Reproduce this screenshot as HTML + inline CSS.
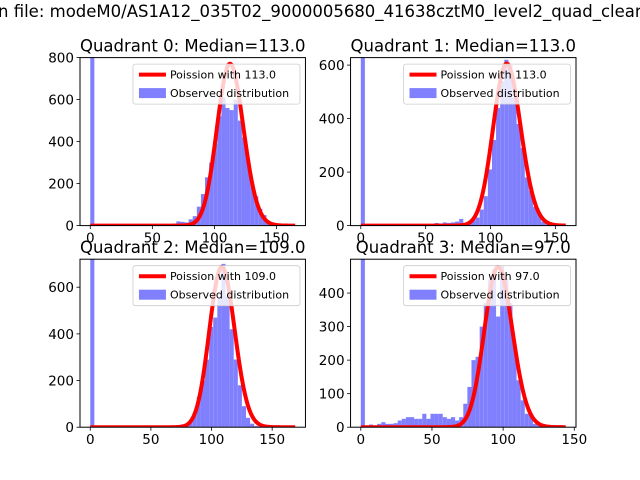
<!DOCTYPE html>
<html><head><meta charset="utf-8"><style>
html,body{margin:0;padding:0;background:#fff;overflow:hidden}
svg{display:block;font-family:"DejaVu Sans","Liberation Sans",sans-serif}
</style></head><body>
<svg id="fig" width="640" height="480" viewBox="0 0 640 480" xmlns="http://www.w3.org/2000/svg">
<rect width="640" height="480" fill="#fff"/>
<text x="-2" y="17" font-size="16.5" fill="#000">n file: modeM0/AS1A12_035T02_9000005680_41638cztM0_level2_quad_clean</text>
</svg>
<script>
// ---- data ----
const titles = ["Quadrant 0: Median=113.0","Quadrant 1: Median=113.0","Quadrant 2: Median=109.0","Quadrant 3: Median=97.0"];
const medians = [113, 113, 109, 97];
const histMax = [165, 158, 169, 144];
const yMax = [800, 628, 720, 501];
const yTicks0 = [0,200,400,600,800];
const yTicks1 = [0,200,400,600];
const yTicks2 = [0,200,400,600];
const yTicks3 = [0,100,200,300,400];
const xTicks = [0,50,100,150];
const curvePeak = [770, 605, 686, 477];
const counts0 = [3000,0,0,0,0,0,0,0,0,0,0,0,0,0,0,0,0,0,0,5,10,20,18,15,30,45,90,150,230,300,390,520,610,560,550,600,500,420,310,200,140,80,50,20,10,5,0,0,0,0];
const counts1 = [3000,0,0,0,0,0,0,0,0,0,0,0,0,0,0,0,5,5,10,8,12,10,12,15,25,10,15,20,30,60,110,210,320,440,540,620,600,480,380,290,180,130,70,50,15,5,0,0,0,0];
const counts2 = [3000,0,0,0,0,0,0,0,0,0,0,0,0,0,0,0,0,3,0,0,3,8,12,15,30,60,130,200,290,430,470,550,700,560,420,290,180,90,40,15,5,0,0,0,0,0,0,0,0,0];
const counts3 = [3000,0,8,5,10,15,10,10,12,20,25,30,30,25,25,40,25,40,40,40,30,25,30,20,30,70,120,200,210,300,370,440,470,330,480,440,370,250,140,80,40,40,10,5,0,0,0,0,0,0];
const allCounts = [counts0, counts1, counts2, counts3];
const allYTicks = [yTicks0, yTicks1, yTicks2, yTicks3];

// ---- layout ----
const NS = "http://www.w3.org/2000/svg";
const svg = document.getElementById("fig");
const axW = 225.45, axH = 168;
const axLeft = [80, 350.55, 80, 350.55];
const axTop = [57.6, 57.6, 259.2, 259.2];

function mk(tag, attrs, parent){
  const e = document.createElementNS(NS, tag);
  for (const k in attrs) e.setAttribute(k, attrs[k]);
  (parent||svg).appendChild(e);
  return e;
}
function lgamma(z){
  let s = 0;
  while (z < 7){ s -= Math.log(z); z += 1; }
  const z2 = 1/(z*z);
  return s + (z-0.5)*Math.log(z) - z + 0.5*Math.log(2*Math.PI) + (1/12 - z2*(1/360 - z2/1260))/z;
}

for (let q = 0; q < 4; q++){
  const L = axLeft[q], T = axTop[q];
  const xmax = histMax[q];
  const x0 = -0.05*xmax, x1 = 1.05*xmax;
  const X = v => L + (v - x0)/(x1 - x0)*axW;
  const Y = v => T + axH - v/yMax[q]*axH;
  const g = mk("g", {});
  
  
  const clipId = "clip" + q;
  const cp = mk("clipPath", {id: clipId}, g);
  mk("rect", {x: L, y: T, width: axW, height: axH}, cp);
  const plot = mk("g", {"clip-path": "url(#" + clipId + ")"}, g);
  const counts = allCounts[q];
  const bw = xmax / counts.length;
  for (let i = 0; i < counts.length; i++){
    if (counts[i] <= 0) continue;
    const r = mk("rect", {x: X(i*bw), y: Y(counts[i]), width: X((i+1)*bw) - X(i*bw), height: Y(0) - Y(counts[i]), fill: "#8080ff"}, plot);
    
    
  }
  const lam = medians[q];
  const lpk = lam*Math.log(lam) - lam - lgamma(lam+1);
  let d = "";
  for (let k = 0; k <= 400; k++){
    const xv = xmax * k / 400;
    const lp = (xv === 0 ? -lam : xv*Math.log(lam) - lam - lgamma(xv+1));
    const yv = curvePeak[q] * Math.exp(lp - lpk);
    d += (k ? "L" : "M") + X(xv).toFixed(2) + "," + Y(yv).toFixed(2);
  }
  const curve = mk("path", {d: d, fill: "none", stroke: "#ff0000", "stroke-width": 4, "stroke-linejoin": "round"}, plot);
  
  
  const fr = mk("rect", {x: L, y: T, width: axW, height: axH, fill: "none", stroke: "#000", "stroke-width": 1}, g);
  
  
  for (const t of xTicks){
    const px = X(t);
    mk("line", {x1: px, x2: px, y1: T+axH, y2: T+axH+3.5, stroke: "#000", "stroke-width": 0.8}, g);
    const tl = mk("text", {x: px, y: T+axH+17, "font-size": 13.5, "text-anchor": "middle", fill: "#000"}, g);
    tl.textContent = String(t);
    
    
  }
  for (const t of allYTicks[q]){
    const py = Y(t);
    mk("line", {x1: L-3.5, x2: L, y1: py, y2: py, stroke: "#000", "stroke-width": 0.8}, g);
    const tl = mk("text", {x: L-6, y: py+5, "font-size": 13.5, "text-anchor": "end", fill: "#000"}, g);
    tl.textContent = String(t);
    
    
  }
  const ti = mk("text", {x: L + axW/2, y: T - 6, "font-size": 16.5, "text-anchor": "middle", fill: "#000"}, g);
  ti.textContent = titles[q];
  
  
  const lg = mk("g", {}, g);
  
  
  const lx = L + axW - 172.5, ly = T + 6.5;
  mk("rect", {x: lx, y: ly, width: 167, height: 40, rx: 2.5, fill: "#fff", "fill-opacity": 0.8, stroke: "#cccccc", "stroke-width": 0.8}, lg);
  const ll = mk("line", {x1: lx+6, x2: lx+33, y1: ly+10.5, y2: ly+10.5, stroke: "#ff0000", "stroke-width": 4}, lg);
  
  
  const t1 = mk("text", {x: lx+37, y: ly+14.5, "font-size": 11, fill: "#000"}, lg);
  t1.textContent = "Poission with " + medians[q].toFixed(1);
  
  
  const lp = mk("rect", {x: lx+6, y: ly+24, width: 27, height: 10, fill: "#8080ff"}, lg);
  
  
  const t2 = mk("text", {x: lx+37, y: ly+33, "font-size": 11, fill: "#000"}, lg);
  t2.textContent = "Observed distribution";
  
  
}
</script>
</body></html>
